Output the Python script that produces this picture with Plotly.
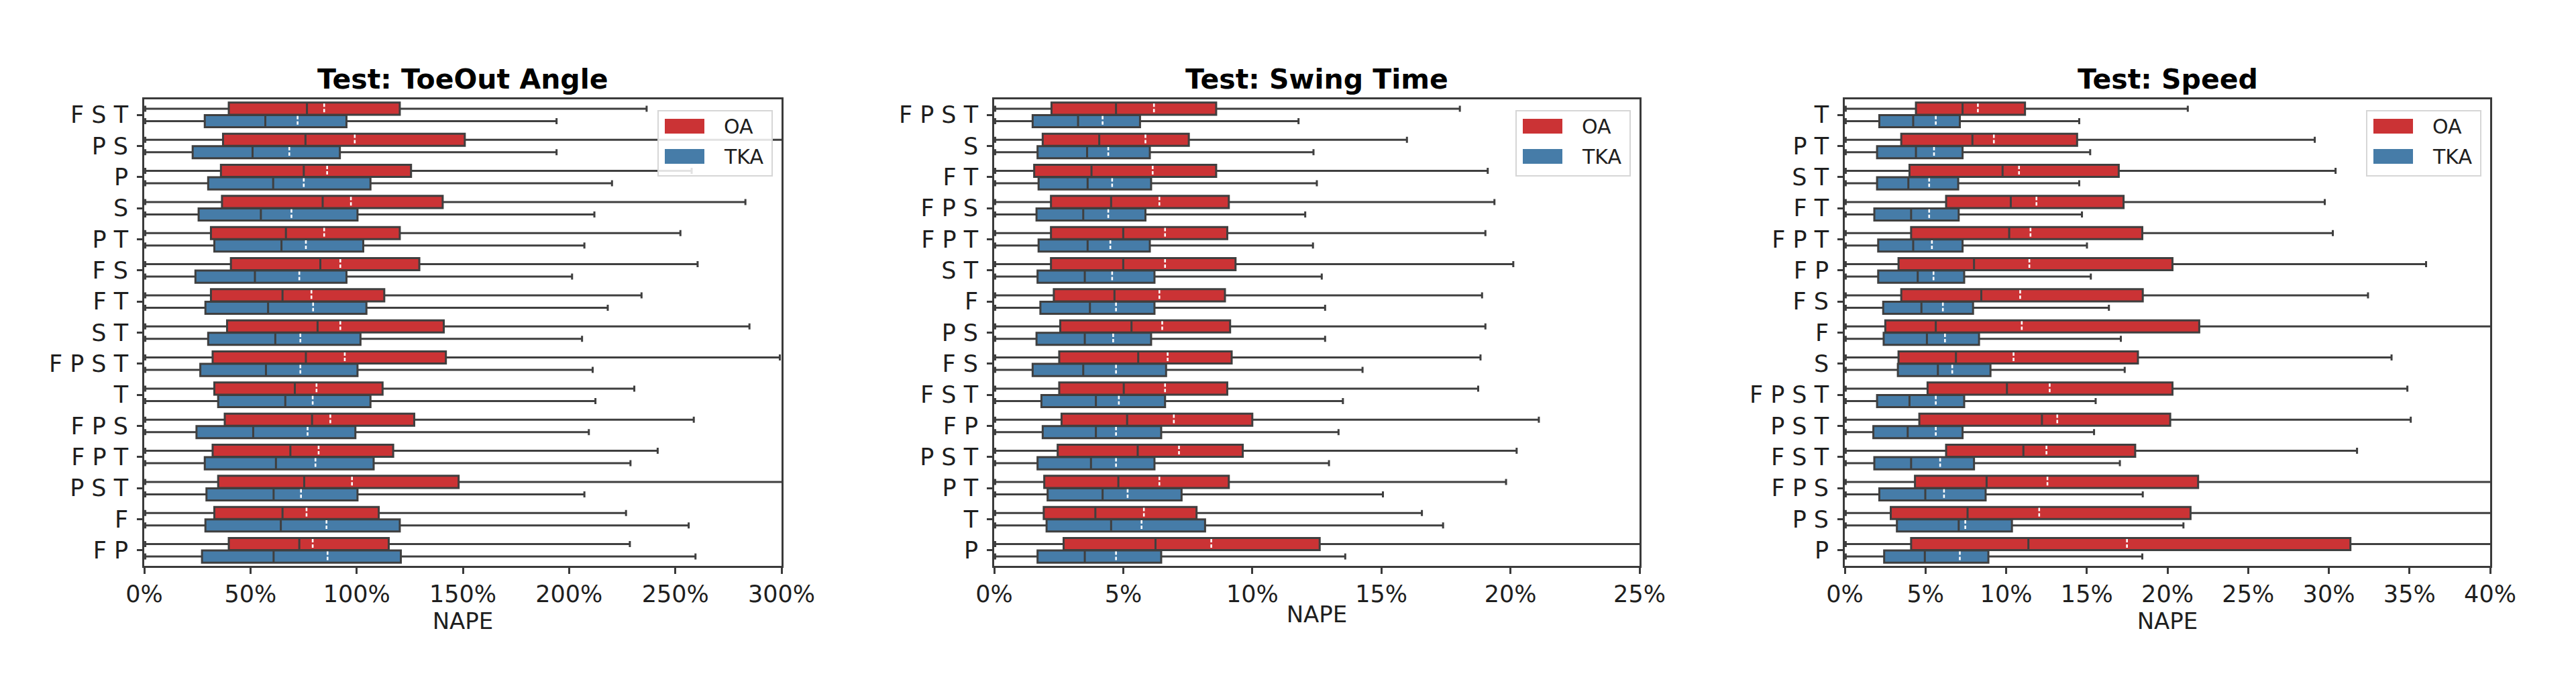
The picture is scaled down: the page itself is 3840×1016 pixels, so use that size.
import plotly.graph_objects as go

# ---------------- data (NAPE, percent) ----------------
toe_cats = ["F S T", "P S", "P", "S", "P T", "F S", "F T", "S T", "F P S T", "T", "F P S", "F P T", "P S T", "F", "F P"]
toe_oa_lo = [0.5, 0.5, 0.5, 0.5, 0.5, 0.5, 0.5, 0.5, 0.5, 0.5, 0.5, 0.5, 0.5, 0.5, 0.5]
toe_oa_q1 = [39.8, 37.1, 36.1, 36.6, 31.4, 40.8, 31.4, 39.0, 32.2, 33.0, 37.9, 32.2, 34.8, 33.0, 39.8]
toe_oa_med = [76.6, 75.9, 75.1, 84.0, 66.7, 82.9, 65.1, 81.6, 76.1, 70.9, 79.0, 68.8, 75.3, 65.1, 73.0]
toe_oa_mean = [84.7, 99.1, 86.1, 97.3, 84.7, 92.3, 78.7, 92.3, 94.4, 81.1, 87.6, 82.1, 97.8, 76.4, 79.3]
toe_oa_q3 = [120.3, 150.9, 125.6, 140.5, 120.3, 129.5, 113.0, 141.0, 142.0, 112.2, 127.1, 117.2, 148.0, 110.4, 115.1]
toe_oa_hi = [236.5, 330.0, 257.7, 283.0, 252.4, 260.5, 234.1, 284.9, 299.2, 230.7, 258.7, 241.7, 320.0, 226.8, 228.6]
toe_tka_lo = [0.5, 0.5, 0.5, 0.5, 0.5, 0.5, 0.5, 0.5, 0.5, 0.5, 0.5, 0.5, 0.5, 0.5, 0.5]
toe_tka_q1 = [28.5, 22.8, 30.1, 25.6, 33.0, 24.1, 28.8, 30.1, 26.4, 34.8, 24.6, 28.5, 29.3, 28.8, 27.2]
toe_tka_med = [57.0, 51.0, 60.7, 54.9, 64.6, 52.1, 58.3, 61.7, 57.3, 66.4, 51.3, 62.0, 60.9, 64.3, 60.9]
toe_tka_mean = [72.2, 68.3, 75.1, 69.3, 76.1, 73.0, 79.5, 73.5, 73.5, 79.3, 76.9, 80.6, 73.8, 85.8, 86.3]
toe_tka_q3 = [95.2, 92.1, 106.5, 100.4, 103.1, 95.2, 104.6, 101.8, 100.4, 106.5, 99.4, 108.0, 100.4, 120.3, 120.8]
toe_tka_hi = [194.1, 194.1, 220.2, 211.9, 207.2, 201.4, 218.2, 206.1, 211.1, 212.4, 209.3, 228.9, 207.2, 256.3, 259.5]

swing_cats = ["F P S T", "S", "F T", "F P S", "F P T", "S T", "F", "P S", "F S", "F S T", "F P", "P S T", "P T", "T", "P"]
swing_oa_lo = [0.04, 0.04, 0.04, 0.04, 0.04, 0.04, 0.04, 0.04, 0.04, 0.04, 0.04, 0.04, 0.04, 0.04, 0.04]
swing_oa_q1 = [2.22, 1.88, 1.55, 2.20, 2.20, 2.20, 2.31, 2.56, 2.52, 2.52, 2.61, 2.46, 1.94, 1.92, 2.69]
swing_oa_med = [4.72, 4.07, 3.77, 4.53, 5.00, 5.00, 4.66, 5.32, 5.58, 5.02, 5.15, 5.56, 4.81, 3.92, 6.25]
swing_oa_mean = [6.19, 5.86, 6.14, 6.40, 6.62, 6.62, 6.40, 6.51, 6.72, 6.62, 6.96, 7.16, 6.40, 5.80, 8.41]
swing_oa_q3 = [8.60, 7.54, 8.60, 9.09, 9.03, 9.35, 8.94, 9.14, 9.20, 9.03, 10.00, 9.63, 9.09, 7.84, 12.61]
swing_oa_hi = [18.04, 15.99, 19.12, 19.38, 19.03, 20.11, 18.90, 19.03, 18.84, 18.75, 21.10, 20.24, 19.83, 16.57, 27.0]
swing_tka_lo = [0.04, 0.04, 0.04, 0.04, 0.04, 0.04, 0.04, 0.04, 0.04, 0.04, 0.04, 0.04, 0.04, 0.04, 0.04]
swing_tka_q1 = [1.49, 1.68, 1.72, 1.64, 1.72, 1.68, 1.79, 1.64, 1.49, 1.83, 1.88, 1.68, 2.07, 2.03, 1.68]
swing_tka_med = [3.25, 3.60, 3.62, 3.45, 3.62, 3.51, 3.71, 3.51, 3.45, 3.94, 3.94, 3.75, 4.20, 4.53, 3.51]
swing_tka_mean = [4.20, 4.42, 4.57, 4.42, 4.50, 4.57, 4.72, 4.61, 4.72, 4.83, 4.72, 4.72, 5.17, 5.71, 4.72]
swing_tka_q3 = [5.65, 6.03, 6.08, 5.86, 6.03, 6.21, 6.21, 6.08, 6.66, 6.62, 6.47, 6.21, 7.26, 8.17, 6.47]
swing_tka_hi = [11.79, 12.37, 12.50, 12.05, 12.35, 12.69, 12.82, 12.82, 14.27, 13.51, 13.34, 12.97, 15.06, 17.39, 13.60]

speed_cats = ["T", "P T", "S T", "F T", "F P T", "F P", "F S", "F", "S", "F P S T", "P S T", "F S T", "F P S", "P S", "P"]
speed_oa_lo = [0.06, 0.06, 0.06, 0.06, 0.06, 0.06, 0.06, 0.06, 0.06, 0.06, 0.06, 0.06, 0.06, 0.06, 0.06]
speed_oa_q1 = [4.41, 3.50, 4.01, 6.28, 4.11, 3.33, 3.50, 2.51, 3.33, 5.13, 4.62, 6.28, 4.35, 2.85, 4.11]
speed_oa_med = [7.30, 7.91, 9.78, 10.29, 10.19, 8.01, 8.46, 5.64, 6.89, 10.05, 12.22, 11.07, 8.79, 7.61, 11.38]
speed_oa_mean = [8.25, 9.24, 10.80, 11.88, 11.51, 11.44, 10.87, 10.97, 10.46, 12.70, 13.17, 12.50, 12.56, 12.05, 17.49]
speed_oa_q3 = [11.17, 14.40, 16.98, 17.28, 18.44, 20.31, 18.47, 21.97, 18.17, 20.31, 20.17, 18.00, 21.90, 21.43, 31.34]
speed_oa_hi = [21.26, 29.13, 30.42, 29.75, 30.25, 36.03, 32.43, 42.0, 33.89, 34.87, 35.08, 31.75, 42.0, 42.0, 45.0]
speed_tka_lo = [0.06, 0.06, 0.06, 0.06, 0.06, 0.06, 0.06, 0.06, 0.06, 0.06, 0.06, 0.06, 0.06, 0.06, 0.06]
speed_tka_q1 = [2.14, 2.00, 2.00, 1.83, 2.07, 2.07, 2.38, 2.41, 3.29, 2.00, 1.77, 1.83, 2.14, 3.23, 2.44]
speed_tka_med = [4.24, 4.41, 3.94, 4.11, 4.24, 4.52, 4.75, 5.09, 5.77, 4.01, 3.90, 4.11, 4.99, 7.06, 4.96]
speed_tka_mean = [5.64, 5.53, 5.23, 5.23, 5.40, 5.50, 6.08, 6.21, 6.66, 5.64, 5.64, 5.91, 6.15, 7.47, 7.13]
speed_tka_q3 = [7.13, 7.30, 7.03, 7.06, 7.30, 7.40, 7.95, 8.32, 9.03, 7.40, 7.30, 8.01, 8.73, 10.36, 8.90]
speed_tka_hi = [14.53, 15.21, 14.53, 14.70, 15.01, 15.25, 16.37, 17.11, 17.35, 15.55, 15.45, 17.05, 18.47, 20.99, 18.44]

titles = ["Test: ToeOut Angle", "Test: Swing Time", "Test: Speed"]
x_max = [300, 25, 40]
x_dtick = [50, 5, 5]
group_names = ["OA", "TKA"]

# ---------------- style ----------------
W, H = 3840, 1016
RED = "#cb3335"
BLUE = "#467ca8"
GRAY = "#3f3f3f"
AXC = "#3a3a3a"
TXT = "#1e1e1e"
FONT = "DejaVu Sans"
panel_px = [(207, 1157), (1474, 2436), (2742, 3704)]
top_px, bot_px = 140, 835

panels = [
    (toe_cats,
     (toe_oa_lo, toe_oa_q1, toe_oa_med, toe_oa_mean, toe_oa_q3, toe_oa_hi),
     (toe_tka_lo, toe_tka_q1, toe_tka_med, toe_tka_mean, toe_tka_q3, toe_tka_hi)),
    (swing_cats,
     (swing_oa_lo, swing_oa_q1, swing_oa_med, swing_oa_mean, swing_oa_q3, swing_oa_hi),
     (swing_tka_lo, swing_tka_q1, swing_tka_med, swing_tka_mean, swing_tka_q3, swing_tka_hi)),
    (speed_cats,
     (speed_oa_lo, speed_oa_q1, speed_oa_med, speed_oa_mean, speed_oa_q3, speed_oa_hi),
     (speed_tka_lo, speed_tka_q1, speed_tka_med, speed_tka_mean, speed_tka_q3, speed_tka_hi)),
]

fig = go.Figure()
BOXW = 0.39
OFFS = [-0.2, 0.2]
COLORS = [RED, BLUE]

shapes = []
annotations = []

for k, (cats, oa, tka) in enumerate(panels):
    sfx = "" if k == 0 else str(k + 1)
    xa, ya = "x" + sfx, "y" + sfx
    idx = list(range(len(cats)))
    for g, stats in enumerate((oa, tka)):
        lo, q1, med, mean, q3, hi = stats
        pos = [i + OFFS[g] for i in idx]
        fig.add_trace(go.Box(
            orientation="h", y=pos, q1=q1, median=med, q3=q3,
            lowerfence=lo, upperfence=hi,
            fillcolor=COLORS[g], line=dict(color=GRAY, width=3),
            width=BOXW, whiskerwidth=0.5, boxpoints=False,
            name=group_names[g], showlegend=False, hoverinfo="skip",
            xaxis=xa, yaxis=ya,
        ))
        mx, my = [], []
        for p, m in zip(pos, mean):
            mx += [m, m, None]
            my += [p - BOXW / 2 + 0.03, p + BOXW / 2 - 0.03, None]
        fig.add_trace(go.Scatter(
            x=mx, y=my, mode="lines",
            line=dict(color="white", width=2.6, dash="5px,3px"),
            showlegend=False, hoverinfo="skip", xaxis=xa, yaxis=ya,
        ))

    x0, x1 = panel_px[k]
    dom = [x0 / W, x1 / W]
    fig.layout["xaxis" + sfx] = dict(
        domain=dom, range=[0, x_max[k]], dtick=x_dtick[k], tick0=0,
        ticksuffix="%", showline=True, mirror=True, linecolor=AXC, linewidth=2.8,
        ticks="outside", ticklen=9, tickwidth=2.5, tickcolor=AXC,
        showgrid=False, zeroline=False, anchor=ya,
        tickfont=dict(family=FONT, size=35, color=TXT),
        title=dict(text="NAPE", font=dict(family=FONT, size=34, color=TXT), standoff=0),
        automargin=False,
    )
    fig.layout["yaxis" + sfx] = dict(
        domain=[1 - bot_px / H, 1 - top_px / H], range=[len(cats) - 0.5, -0.5],
        tickmode="array", tickvals=idx, ticktext=cats,
        showline=True, mirror=True, linecolor=AXC, linewidth=2.8,
        ticks="outside", ticklen=8, tickwidth=2.5, tickcolor=AXC,
        showgrid=False, zeroline=False, anchor=xa,
        tickfont=dict(family=FONT, size=35, color=TXT),
        ticklabelstandoff=6, automargin=False,
    )

    # title
    annotations.append(dict(
        x=(x0 + x1) / 2 / W, y=1 - 110 / H, xref="paper", yref="paper",
        text=titles[k], showarrow=False, xanchor="center", yanchor="middle",
        font=dict(family=FONT, size=41, color="black", weight="bold"),
    ))

    # legend (drawn)
    r = x1
    shapes.append(dict(type="rect", xref="paper", yref="paper",
                       x0=(r - 184) / W, x1=(r - 14) / W,
                       y0=1 - 254 / H, y1=1 - 157 / H,
                       line=dict(color="#d6d6d6", width=2), fillcolor="rgba(255,255,255,0.85)", layer="above"))
    for g, (cy, name) in enumerate(zip([180, 225], group_names)):
        shapes.append(dict(type="rect", xref="paper", yref="paper",
                           x0=(r - 174) / W, x1=(r - 115) / W,
                           y0=1 - (cy + 11) / H, y1=1 - (cy - 11) / H,
                           line=dict(color=COLORS[g], width=0), fillcolor=COLORS[g], layer="above"))
        annotations.append(dict(
            x=(r - 88) / W, y=1 - cy / H, xref="paper", yref="paper",
            text=name, showarrow=False, xanchor="left", yanchor="middle",
            font=dict(family=FONT, size=30, color=TXT),
        ))

fig.update_layout(
    width=W, height=H, margin=dict(l=0, r=0, t=0, b=0),
    paper_bgcolor="white", plot_bgcolor="white",
    boxmode="overlay", showlegend=False,
    shapes=shapes, annotations=annotations,
    font=dict(family=FONT),
)

fig.write_html("out.html")
